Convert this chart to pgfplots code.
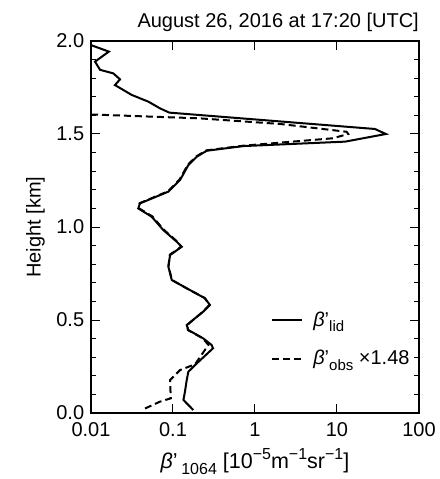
\documentclass[border=0pt]{standalone}
\usepackage{fontspec}
\setmainfont{Liberation Sans}
\usepackage{pgfplots}
\pgfplotsset{compat=1.18}
\newcommand\sbs[1]{\raisebox{-0.28em}{\fontsize{15}{15}\selectfont #1}}
\newcommand\sxs[1]{\raisebox{-0.28em}{\fontsize{16}{16}\selectfont #1}}
\newcommand\sps[1]{\raisebox{0.42em}{\fontsize{16}{16}\selectfont #1}}
\begin{document}
\fontsize{20}{24}\selectfont
\begin{tikzpicture}
\useasboundingbox (-91pt,-66pt) rectangle (348pt,413pt);
\begin{axis}[
  at={(0pt,0pt)}, anchor=south west,
  scale only axis, width=328pt, height=372pt,
  xmode=log, xmin=0.01, xmax=100, ymin=0, ymax=2.0,
  log basis x=10,
  xtick={0.01,0.1,1,10,100},
  xticklabels={0.01,0.1,1,10,100},
  ytick={0,0.5,1.0,1.5,2.0},
  minor y tick num=4,
  /pgf/number format/assume math mode=true,
  yticklabel style={/pgf/number format/.cd, fixed, fixed zerofill, precision=1, assume math mode=true},
  xticklabel style={yshift=-3pt},
  tick label style={font=\fontsize{20}{24}\selectfont},
  tick align=inside,
  major tick length=9pt, minor tick length=5pt,
  every tick/.style={black, line width=1pt},
  axis line style={line width=1.6pt},
  xlabel={\textit{β}'\,\sxs{1064} [10\sps{−5}m\sps{−1}sr\sps{−1}]},
  ylabel={Height [km]},
  xlabel style={yshift=2pt, font=\fontsize{21.5}{24}\selectfont},
  ylabel style={yshift=-2pt},
  legend style={draw=none, fill=none, at={(0.54,0.111)}, anchor=south west, row sep=17pt, font=\fontsize{20}{24}\selectfont,
    /tikz/every odd column/.append style={column sep=8pt}},
  legend cell align=left,
  legend image code/.code={\draw[#1] (0pt,0pt) -- (30pt,0pt);},
]
\addplot[black, line width=2pt] coordinates {
(0.0100,1.978) (0.0165,1.943) (0.0112,1.889) (0.0129,1.845) (0.0187,1.826)
(0.0226,1.794) (0.0196,1.763) (0.0314,1.710) (0.050,1.674) (0.0694,1.638)
(0.090,1.615) (29.0,1.527) (39.5,1.500) (12.6,1.459) (0.72,1.435)
(0.258,1.410) (0.195,1.378) (0.154,1.333) (0.122,1.253) (0.0878,1.190)
(0.0396,1.127) (0.0377,1.100) (0.055,1.055) (0.076,0.984) (0.111,0.921)
(0.128,0.894) (0.0921,0.849) (0.0878,0.787) (0.0966,0.715) (0.161,0.661)
(0.245,0.617) (0.282,0.581) (0.234,0.545) (0.147,0.473) (0.154,0.446)
(0.234,0.401) (0.295,0.366) (0.308,0.348) (0.186,0.258) (0.154,0.222)
(0.147,0.177) (0.140,0.115) (0.134,0.070) (0.177,0.016)
};
\addlegendentry{\textit{β}'\sbs{lid}}
\addplot[black, line width=2pt, dash pattern=on 7pt off 4pt] coordinates {
(0.0100,1.605) (0.214,1.584) (2.02,1.554) (13.1,1.512) (13.7,1.500)
(8.9,1.477) (0.72,1.437) (0.256,1.412) (0.193,1.380) (0.152,1.335)
(0.120,1.255) (0.0870,1.192) (0.0392,1.128) (0.0380,1.102) (0.056,1.057)
(0.077,0.986) (0.113,0.921) (0.126,0.894) (0.0915,0.851) (0.0882,0.789)
(0.0970,0.715) (0.160,0.661) (0.243,0.619) (0.278,0.581) (0.232,0.545)
(0.149,0.473) (0.152,0.446) (0.232,0.401) (0.27,0.366) (0.186,0.262)
(0.122,0.231) (0.092,0.177) (0.094,0.079) (0.0694,0.061) (0.0415,0.016)
};
\addlegendentry{\textit{β}'\sbs{obs} ×1.48}
\end{axis}
\node[anchor=base east, inner sep=0pt] at (328pt,385pt) {August 26, 2016 at 17:20 [UTC]};
\end{tikzpicture}
\end{document}
